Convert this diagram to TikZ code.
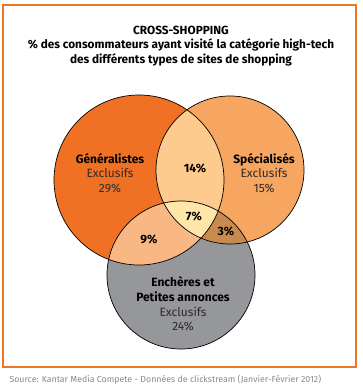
\documentclass[tikz,border=0pt]{standalone}
\usepackage{fontspec}
\setmainfont{Fira Sans}
\usetikzlibrary{positioning}
\definecolor{geno}{HTML}{F07124}
\definecolor{speo}{HTML}{F6A660}
\definecolor{ench}{HTML}{96979A}
\definecolor{gs}{HTML}{FDCB8D}
\definecolor{ge}{HTML}{F9B783}
\definecolor{se}{HTML}{C98A4F}
\definecolor{gse}{HTML}{FEE5A8}
\definecolor{cadre}{HTML}{EB7625}
\definecolor{texte}{HTML}{2B2B2B}
\begin{document}
\begin{tikzpicture}
		[   x=1pt,y=-1pt,
		    vlabel/.style={align=center,text=texte,font=\fontsize{12}{14.6}\selectfont},
		    pct/.style={font=\fontsize{12}{14}\selectfont\bfseries,text=black},
		]
		\tikzset{contour/.style={draw=black,line width=0.7pt}}
		\useasboundingbox (0,0) rectangle (363,390);
		\draw[cadre,line width=1.6pt] (3,5) rectangle (356,367);
		
		\coordinate (g) at (139,180);
		\coordinate (s) at (230,170);
		\coordinate (e) at (181,275);
		\def\rg{85pt}
		\def\rs{74pt}
		\def\re{74pt}
		
		% cercles
		\fill[geno] (g) circle[radius=\rg];
		\fill[speo] (s) circle[radius=\rs];
		\fill[ench] (e) circle[radius=\re];
		
		% intersections
		\begin{scope}
			\clip (g) circle[radius=\rg];
			\fill[gs] (s) circle[radius=\rs];
			\fill[ge] (e) circle[radius=\re];
			\clip (s) circle[radius=\rs];
			\fill[gse] (e) circle[radius=\re];
		\end{scope}
		\begin{scope}[even odd rule]
			\clip (g) circle[radius=\rg] (-10,-10) rectangle (373,400);
			\clip (s) circle[radius=\rs];
			\fill[se] (e) circle[radius=\re];
		\end{scope}
		
		\draw[contour] (g) circle[radius=\rg];
		\draw[contour] (s) circle[radius=\rs];
		\draw[contour] (e) circle[radius=\re];
		
		% textes
		\node[align=center,font=\fontsize{11.8}{14.8}\selectfont\bfseries] (titre) at (181,46)
			{CROSS-SHOPPING\\\% des consommateurs ayant visité la catégorie high-tech\\des différents types de sites de shopping};
		\node[vlabel] (gen) at (110,173) {\textbf{\color{black}Généralistes}\\Exclusifs\\29\%};
		\node[vlabel] (spe) at (264,173) {\textbf{\color{black}Spécialisés}\\Exclusifs\\15\%};
		\node[vlabel] (enc) at (183,304) {\textbf{\color{black}Enchères et}\\\textbf{\color{black}Petites annonces}\\Exclusifs\\24\%};
		\node[pct] (p-gs) at (195,168) {14\%};
		\node[pct] (p-gse) at (194,216) {7\%};
		\node[pct] (p-ge) at (149,239) {9\%};
		\node[pct] (p-se) at (226,231) {3\%};
		\node[anchor=west,text=ench!90!black,font=\fontsize{8.8}{10}\selectfont] (source) at (6,380)
			{Source: Kantar Media Compete - Données de clickstream (Janvier-Février 2012)};
\end{tikzpicture}
\end{document}
